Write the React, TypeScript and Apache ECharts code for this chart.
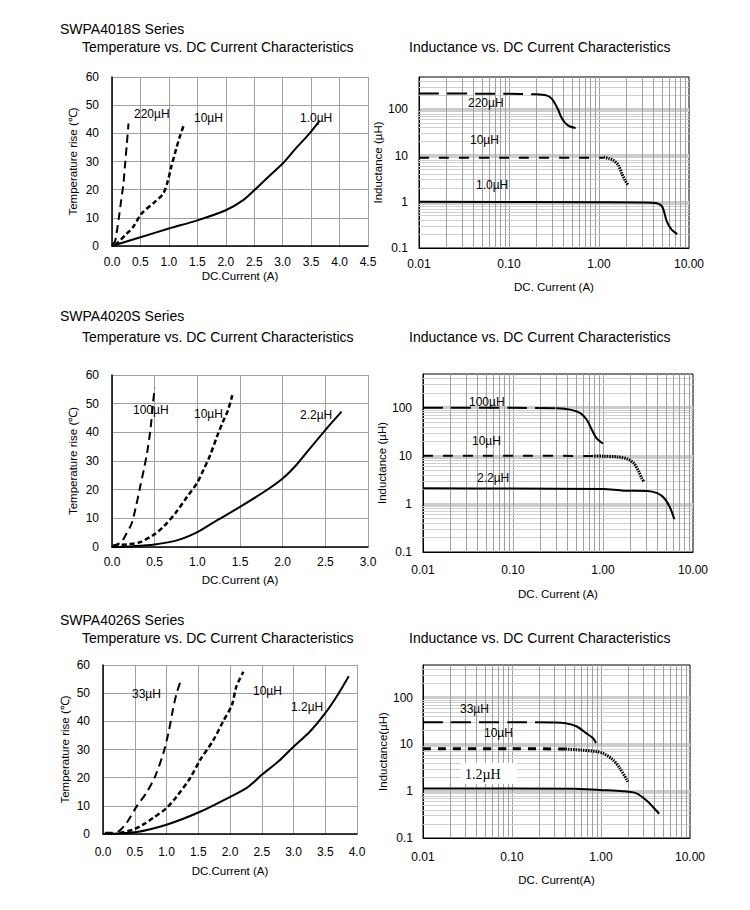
import React, { useEffect, useRef } from "react";
import * as echarts from "echarts";

// ---------- Data ----------
// Row 1: SWPA4018S
const t1_220 = [[0.0, 0.5], [0.05, 1.5], [0.08, 4.5], [0.12, 10], [0.16, 16], [0.2, 22], [0.23, 29], [0.26, 36], [0.29, 43.5]];
const t1_10 = [[0.05, 0.5], [0.11, 1.4], [0.26, 4.4], [0.37, 6.7], [0.52, 11.5], [0.75, 15.6], [0.9, 18.6], [0.98, 23], [1.04, 28], [1.13, 34.6], [1.19, 38.7], [1.27, 43.4]];
const t1_1 = [[0, 0], [0.5, 3.1], [1.0, 6.2], [1.5, 9.1], [2.0, 12.7], [2.3, 16.2], [2.5, 19.8], [2.76, 24.8], [3.0, 29.3], [3.22, 34.4], [3.47, 39.9], [3.65, 44.5]];

const l1_220_flat = [[0.01, 220], [0.05, 218], [0.1, 216], [0.2, 212]];
const l1_220_knee = [[0.2, 212], [0.26, 200], [0.3, 168], [0.35, 100], [0.38, 68], [0.42, 51], [0.47, 43], [0.55, 39.5]];
const l1_10_flat = [[0.01, 9], [0.1, 9], [1.12, 9]];
const l1_10_knee = [[1.12, 9.2], [1.3, 8.6], [1.44, 7.9], [1.64, 6.2], [1.79, 4.1], [1.95, 2.9], [2.12, 2.25]];
const l1_1 = [[0.01, 1], [1, 0.98], [3, 0.97], [4.4, 0.93], [5.0, 0.8], [5.3, 0.6], [5.65, 0.38], [6.4, 0.25], [7.4, 0.2]];

// Row 2: SWPA4020S
const t2_100 = [[0.0, 0.3], [0.05, 0.8], [0.11, 1.7], [0.17, 4.7], [0.23, 8.2], [0.28, 14], [0.33, 21], [0.38, 28], [0.41, 32.6], [0.45, 40.8], [0.48, 50], [0.5, 55.5]];
const t2_10 = [[0.02, 0.5], [0.2, 1], [0.33, 1.7], [0.48, 4.1], [0.6, 7], [0.74, 11.7], [0.88, 17.5], [1.0, 22.5], [1.07, 26.8], [1.15, 32], [1.23, 38.5], [1.3, 43.7], [1.36, 47.8], [1.41, 53]];
const t2_22 = [[0, 0], [0.25, 0.3], [0.5, 0.9], [0.76, 2.3], [1.0, 5.2], [1.23, 9.3], [1.5, 14], [1.81, 19.8], [2.0, 23.9], [2.16, 28.6], [2.32, 34.4], [2.5, 40.8], [2.69, 47.2]];

const l2_100_flat = [[0.01, 100], [0.1, 99], [0.3, 97]];
const l2_100_knee = [[0.3, 97], [0.43, 91], [0.56, 77], [0.66, 56], [0.75, 35], [0.85, 23], [1.0, 18]];
const l2_10_flat = [[0.01, 10], [0.1, 10], [0.8, 9.9]];
const l2_10_knee = [[0.8, 9.9], [1.0, 9.8], [1.43, 9.5], [1.85, 8.65], [2.2, 7.0], [2.5, 4.7], [2.7, 3.4], [2.85, 2.9]];
const l2_22 = [[0.01, 2.1], [0.1, 2.08], [1.0, 2.05], [1.7, 1.88], [3.1, 1.86], [4.0, 1.67], [4.8, 1.31], [5.6, 0.81], [6.2, 0.48]];

// Row 3: SWPA4026S
const t3_33 = [[0.03, 0.4], [0.21, 0.6], [0.37, 3.9], [0.53, 9.8], [0.68, 14.5], [0.82, 20.4], [0.95, 28.7], [1.03, 35.8], [1.1, 44], [1.16, 50], [1.24, 55.3]];
const t3_10 = [[0.26, 0.4], [0.47, 1.5], [0.63, 3.3], [0.79, 5.7], [1.0, 9.2], [1.16, 13.3], [1.37, 19.8], [1.53, 26.3], [1.74, 33.4], [1.89, 39.9], [2.03, 45.8], [2.1, 52.3], [2.21, 57.6]];
const t3_12 = [[0, 0], [0.5, 0.6], [1.0, 3.3], [1.52, 7.8], [2.01, 13.3], [2.26, 16.3], [2.37, 18.3], [2.5, 21], [2.76, 25.7], [3.0, 31], [3.26, 36.4], [3.5, 42.9], [3.68, 48.8], [3.87, 56]];

const l3_33_flat = [[0.01, 30], [0.1, 30], [0.3, 29.5]];
const l3_33_knee = [[0.3, 29.5], [0.4, 28.5], [0.53, 24.5], [0.68, 17.5], [0.81, 13.7], [0.88, 10.7]];
const l3_10_flat = [[0.01, 8.1], [0.1, 8.1], [0.4, 8.0]];
const l3_10_knee = [[0.4, 8.0], [0.6, 7.6], [0.88, 7.05], [1.05, 6.5], [1.36, 4.7], [1.63, 3.1], [2.0, 1.6]];
const l3_12 = [[0.01, 1.14], [0.5, 1.13], [0.97, 1.06], [1.77, 1.0], [2.5, 0.9], [3.23, 0.64], [3.84, 0.46], [4.5, 0.33]];

// Axis ticks / minor grid values
const tempXMax = [4.5, 3.0, 4.0];
const logXMinor = [0.02, 0.03, 0.04, 0.05, 0.06, 0.07, 0.08, 0.09, 0.2, 0.3, 0.4, 0.5, 0.6, 0.7, 0.8, 0.9, 2, 3, 4, 5, 6, 7, 8, 9];
const logYMinor = [0.2, 0.3, 0.4, 0.5, 0.6, 0.7, 0.8, 0.9, 2, 3, 4, 5, 6, 7, 8, 9, 20, 30, 40, 50, 60, 70, 80, 90, 200, 300, 400];

const seriesTitles = ["SWPA4018S Series", "SWPA4020S Series", "SWPA4026S Series"];

const FONT = '"Liberation Sans", Arial, Helvetica, sans-serif';

export default function App() {
  const ref = useRef<HTMLDivElement>(null);
  useEffect(() => {
    document.body.style.margin = "0";
    const chart = echarts.init(ref.current!, undefined, { renderer: "svg" });

    const grids = [
      { left: 112, top: 77, width: 256, height: 169 },
      { left: 419, top: 77, width: 270, height: 171 },
      { left: 112, top: 375, width: 256, height: 172 },
      { left: 423, top: 374, width: 270, height: 178 },
      { left: 103, top: 665, width: 254, height: 169 },
      { left: 423, top: 665, width: 267, height: 173 },
    ];
    const isLog = [false, true, false, true, false, true];

    const xMeta = [
      { margin: 10, gap: 24, name: "DC.Current (A)" },
      { margin: 10, gap: 33, name: "DC. Current (A)" },
      { margin: 9, gap: 27, name: "DC.Current (A)" },
      { margin: 12, gap: 36, name: "DC. Current (A)" },
      { margin: 12, gap: 31, name: "DC.Current (A)" },
      { margin: 13, gap: 36, name: "DC. Current(A)" },
    ];
    const yMeta = [
      { gap: 33, margin: 13, name: "Temperature rise (℃)" },
      { gap: 26, margin: 11, name: "Inductance (µH)" },
      { gap: 33, margin: 13, name: "Temperature rise (℃)" },
      { gap: 30, margin: 11, name: "Inductance (µH)" },
      { gap: 32, margin: 13, name: "Temperature rise (℃)" },
      { gap: 24, margin: 10, name: "Inductance(µH)" },
    ];

    const labelStyle = { color: "#000", fontSize: 12, fontFamily: FONT };
    const nameStyle = { color: "#000", fontSize: 11.5, fontFamily: FONT };

    const xAxis: any[] = [];
    const yAxis: any[] = [];
    grids.forEach((g, i) => {
      if (!isLog[i]) {
        xAxis.push({
          type: "value", gridIndex: i, min: 0, max: tempXMax[i / 2], interval: 0.5,
          axisLine: { show: true, onZero: false, lineStyle: { color: "#000", width: 1.5 } },
          axisTick: { show: false },
          axisLabel: { ...labelStyle, margin: xMeta[i].margin, formatter: (v: number) => v.toFixed(1) },
          splitLine: { show: true, lineStyle: { color: "#a0a0a0", width: 1 } },
          name: xMeta[i].name, nameLocation: "middle", nameGap: xMeta[i].gap, nameTextStyle: nameStyle,
        });
        yAxis.push({
          type: "value", gridIndex: i, min: 0, max: 60, interval: 10,
          axisLine: { show: true, onZero: false, lineStyle: { color: "#000", width: 1.5 } },
          axisTick: { show: false },
          axisLabel: { ...labelStyle, margin: yMeta[i].margin },
          splitLine: { show: true, lineStyle: { color: "#a0a0a0", width: 1 } },
          name: yMeta[i].name, nameLocation: "middle", nameGap: yMeta[i].gap, nameTextStyle: nameStyle,
        });
      } else {
        xAxis.push({
          type: "log", logBase: 10, gridIndex: i, min: 0.01, max: 10,
          axisLine: { show: true, onZero: false, lineStyle: { color: "#000", width: 1 } },
          axisTick: { show: false },
          axisLabel: { ...labelStyle, margin: xMeta[i].margin, formatter: (v: number) => v.toFixed(2) },
          splitLine: { show: true, showMinLine: false, showMaxLine: false, lineStyle: { color: "#a0a0a0", width: 1 } },
          name: xMeta[i].name, nameLocation: "middle", nameGap: xMeta[i].gap, nameTextStyle: nameStyle,
        });
        yAxis.push({
          type: "log", logBase: 10, gridIndex: i, min: 0.1, max: 500,
          axisLine: { show: true, onZero: false, lineStyle: { color: "#000", width: 1 } },
          axisTick: { show: false },
          axisLabel: { ...labelStyle, margin: yMeta[i].margin, showMaxLabel: false, formatter: (v: number) => String(Number(v.toPrecision(3))) },
          splitLine: { show: true, showMinLine: false, showMaxLine: false, lineStyle: { color: "#cccccc", width: 3 } },
          name: yMeta[i].name, nameLocation: "middle", nameGap: yMeta[i].gap, nameTextStyle: nameStyle,
        });
      }
    });

    const line = (i: number, data: number[][], type: any, width = 2) => ({
      type: "line", xAxisIndex: i, yAxisIndex: i, data, symbol: "none", showSymbol: false,
      smooth: 0.3, silent: true, z: 3,
      lineStyle: { color: "#000", width, type },
    });
    const minorGrid = (i: number) => ({
      type: "line", xAxisIndex: i, yAxisIndex: i, data: [], silent: true, z: 1,
      markLine: {
        silent: true, symbol: ["none", "none"], label: { show: false }, z: 1, animation: false,
        emphasis: { disabled: true },
        data: [
          ...logYMinor.map((v) => ({ yAxis: v, lineStyle: { color: "#cfcfcf", width: 1, type: "solid" } })),
          ...logXMinor.map((v) => ({ xAxis: v, lineStyle: { color: "#a0a0a0", width: 1, type: "solid" } })),
        ],
      },
    });

    const series: any[] = [
      line(0, t1_220, [8, 5]),
      line(0, t1_10, [5, 3], 2.5),
      line(0, t1_1, "solid"),
      minorGrid(1),
      line(1, l1_220_flat, [20, 8]),
      line(1, l1_220_knee, "solid"),
      line(1, l1_10_flat, [10, 10]),
      line(1, l1_10_knee, [1.5, 1], 3),
      line(1, l1_1, "solid"),
      line(2, t2_100, [8, 5]),
      line(2, t2_10, [5, 3], 2.5),
      line(2, t2_22, "solid"),
      minorGrid(3),
      line(3, l2_100_flat, [20, 8]),
      line(3, l2_100_knee, "solid"),
      line(3, l2_10_flat, [10, 10]),
      line(3, l2_10_knee, [1.5, 1], 3),
      line(3, l2_22, "solid"),
      line(4, t3_33, [8, 5]),
      line(4, t3_10, [5, 3], 2.5),
      line(4, t3_12, "solid"),
      minorGrid(5),
      line(5, l3_33_flat, [20, 8]),
      line(5, l3_33_knee, "solid"),
      line(5, l3_10_flat, [8, 7], 3),
      line(5, l3_10_knee, [1.5, 1], 3),
      line(5, l3_12, "solid"),
    ];

    const txt = (x: number, y: number, text: string, size = 12, family = FONT, align = "left") => ({
      type: "text", x, y, z: 20,
      style: { text, font: `${size}px ${family}`, fill: "#000", verticalAlign: "middle", align },
    });

    const rowY = [[29, 47], [316, 337], [620, 638]];
    const graphic: any[] = [];
    rowY.forEach(([sy, ty], r) => {
      graphic.push(txt(60, sy, seriesTitles[r], 14));
      graphic.push(txt(82, ty, "Temperature vs. DC Current Characteristics", 14));
      graphic.push(txt(409, ty, "Inductance vs. DC Current Characteristics", 14));
    });
    graphic.push(
      txt(134, 114, "220µH"), txt(194, 118, "10µH"), txt(300, 118, "1.0µH"),
      txt(468, 103, "220µH"), txt(470, 140, "10µH"), txt(476, 185, "1.0µH"),
      txt(133, 410, "100µH"), txt(194, 414, "10µH"), txt(300, 415, "2.2µH"),
      txt(469, 402, "100µH"), txt(472, 441, "10µH"), txt(477, 478, "2.2µH"),
      txt(132, 694, "33µH"), txt(253, 691, "10µH"), txt(291, 707, "1.2µH"),
      txt(460, 709, "33µH"), txt(484, 733, "10µH"),
      { type: "rect", z: 19, shape: { x: 461, y: 763, width: 56, height: 21 }, style: { fill: "#fff" } },
      txt(465, 774, "1.2µH", 14, '"Liberation Serif", "Times New Roman", serif'),
    );

    chart.setOption({
      animation: false,
      backgroundColor: "#fff",
      grid: grids.map((g, i) => ({
        ...g, containLabel: false,
        show: isLog[i], borderColor: "#000", borderWidth: 1, backgroundColor: "transparent",
      })),
      xAxis, yAxis, series, graphic,
    });
    return () => chart.dispose();
  }, []);
  return <div ref={ref} style={{ width: 750, height: 910 }} />;
}
